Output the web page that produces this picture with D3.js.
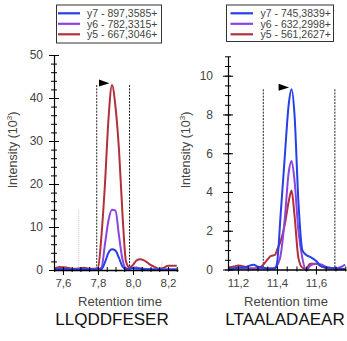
<!DOCTYPE html>
<html><head><meta charset="utf-8">
<script src="https://cdn.jsdelivr.net/npm/d3@7"></script>
<style>
body{margin:0;background:#fff;}
svg{display:block;font-family:"Liberation Sans",Arial,sans-serif;}
</style></head>
<body><svg id="c" width="347" height="341"></svg>
<script>
// ---------- DATA ----------
const seriesNames = ["y7", "y6", "y5"];
const leftLegend = ["y7 - 897,3585+", "y6 - 782,3315+", "y5 - 667,3046+"];
const rightLegend = ["y7 - 745,3839+", "y6 - 632,2998+", "y5 - 561,2627+"];
const peptides = ["LLQDDFESER", "LTAALADAEAR"];

const leftTime = [7.55,7.58,7.62,7.65,7.68,7.72,7.75,7.78,7.80,7.82,7.84,7.86,7.88,7.90,7.92,7.94,7.96,7.98,8.00,8.02,8.04,8.06,8.08,8.10,8.12,8.15,8.18,8.20,8.25];
const leftY5 = [0.3,0.7,0.6,0.3,0.3,0.5,0.3,0.3,0.5,8,20,35,43,38,28,13,2,0.6,1.2,2.2,2.5,2.3,1.8,1.2,0.8,0.3,0.6,1,1];
const leftY6 = [0.3,0.3,0.3,0.2,0.2,0.3,0.2,0.2,0.2,0.5,6,11.5,14,13.8,8,2.5,0.4,0.3,0.5,0.6,0.4,0.3,0.2,0.2,0.2,0.2,0.1,0.1,0.1];
const leftY7 = [0.2,0.2,0.2,0.1,0.1,0.2,0.1,0.1,0.1,0.2,1.8,4,4.8,4.5,2.8,0.8,0.2,0.3,0.4,0.3,0.3,0.2,0.2,0.1,0.1,0.1,0.1,0.1,0.1];

const rightTime = [11.15,11.18,11.20,11.23,11.26,11.28,11.30,11.33,11.35,11.37,11.39,11.40,11.42,11.44,11.46,11.475,11.49,11.51,11.53,11.55,11.57,11.60,11.63,11.66,11.70,11.75];
const rightY7 = [0.05,0.05,0.1,0.1,0.2,0.25,0.15,0.1,0.05,0.05,0.05,0.3,3,5.8,8.5,9.3,8,3.5,1,0.75,0.65,0.45,0.15,0.1,0.05,0.02];
const rightY6 = [0.05,0.05,0.05,0.05,0.05,0.05,0.05,0.05,0.05,0.05,0.1,0.2,0.8,2.6,5.0,5.6,4.6,2.0,0.6,-0.05,0.2,0.3,0.25,0.1,0.05,0.25];
const rightY5 = [0.1,0.15,0.2,0.15,0.05,0.05,0.05,0.25,0.5,0.7,0.75,1.0,1.5,2.3,3.5,4.07,2.8,0.6,0.1,0.05,0.3,0.3,0.15,0.05,0.05,0.02];

const leftBounds = [7.793, 7.98];     // integration boundaries
const rightBounds = [11.33, 11.697];
const leftYTicks = [0,10,20,30,40,50];
const rightYTicks = [0,2,4,6,8,10];
const leftXTicks = [7.6,7.8,8.0,8.2];
const rightXTicks = [11.2,11.4,11.6];
const leftFaint = [7.69, 8.164];

// ---------- STYLE ----------
const colors = {y7:"#2440e6", y6:"#8a45de", y5:"#b0303d"};
const txt = "#444";
const svg = d3.select("#c");
const fmt = d => d3.format(".1f")(d).replace(".", ",");

function panel(cfg){
  const g = svg.append("g");
  const x = d3.scaleLinear().domain(cfg.xdom).range([cfg.x0, cfg.x1]);
  const y = d3.scaleLinear().domain(cfg.ydom).range([cfg.y0, cfg.y1]);

  // faint lines
  (cfg.faint||[]).forEach((f,i)=>{
    g.append("line").attr("x1",x(f)).attr("x2",x(f))
      .attr("y1", y(cfg.faintTop[i])).attr("y2", y(0))
      .attr("stroke","#c8c8c8").attr("stroke-width",1).attr("stroke-dasharray","1,1");
  });

  // boundaries
  const peakIdx = d3.maxIndex(cfg.series[0].v);
  const peakMax = d3.max(cfg.series, s=>d3.max(s.v));
  const peakS = cfg.series.find(s=>d3.max(s.v)===peakMax);
  const pIdx = d3.maxIndex(peakS.v);
  cfg.bounds.forEach(b=>{
    g.append("line").attr("x1",x(b)).attr("x2",x(b))
      .attr("y1", y(peakMax)).attr("y2", y(0))
      .attr("stroke","#222").attr("stroke-width",1).attr("stroke-dasharray","2,1.2");
  });

  // lines
  const line = d3.line().x((d,i)=>x(cfg.t[i])).y(d=>y(d)).curve(d3.curveMonotoneX);
  cfg.series.slice().reverse().forEach(s=>{
    g.append("path").datum(s.v).attr("d",line).attr("fill","none")
      .attr("stroke",colors[s.name]).attr("stroke-width",2).attr("stroke-linejoin","round");
  });

  // arrow marker
  const px = x(cfg.t[pIdx]), py = y(peakMax);
  g.append("path")
    .attr("d", `M${px-13},${py-5.5} L${px-2.5},${py-1.8} L${px-13},${py+1.5} Z`)
    .attr("fill","#000");

  // y axis
  const ya = g.append("g").attr("transform",`translate(${cfg.x0},0)`)
    .call(d3.axisLeft(y).tickValues(cfg.yticks).tickSizeInner(5).tickSizeOuter(0).tickPadding(cfg.ypad).tickFormat(d3.format("d")));
  ya.selectAll(".tick line").attr("x1",5).attr("stroke","#000");
  ya.select(".domain").attr("stroke","#000").attr("stroke-width",1.2);
  ya.selectAll("text").attr("fill",txt).style("font-size","12px");
  const yminor = d3.range(cfg.ydom[0], cfg.ydom[1]+1e-9, cfg.yminor);
  const ym = g.append("g").attr("transform",`translate(${cfg.x0},0)`)
    .call(d3.axisLeft(y).tickValues(yminor).tickSize(3).tickFormat(""));
  ym.select(".domain").remove();
  ym.selectAll(".tick line").attr("x1",3).attr("stroke","#000");

  // x axis
  const xa = g.append("g").attr("transform",`translate(0,${cfg.y0})`)
    .call(d3.axisBottom(x).tickValues(cfg.xticks).tickSizeInner(5).tickSizeOuter(0).tickPadding(4).tickFormat(fmt));
  xa.selectAll(".tick line").attr("y1",-3).attr("stroke","#000");
  xa.select(".domain").attr("stroke","#000").attr("stroke-width",1.6);
  xa.selectAll("text").attr("fill",txt).style("font-size","11.5px");
  const xminor = d3.range(Math.ceil(cfg.xdom[0]*20)/20, cfg.xdom[1], 0.05);
  const xm = g.append("g").attr("transform",`translate(0,${cfg.y0})`)
    .call(d3.axisBottom(x).tickValues(xminor).tickSize(2).tickFormat(""));
  xm.select(".domain").remove();
  xm.selectAll(".tick line").attr("y1",-3).attr("stroke","#000");

  // axis titles
  g.append("text").attr("transform",`translate(${cfg.ylabX},${cfg.ylabY}) rotate(-90)`)
    .attr("text-anchor","middle").attr("fill",txt).style("font-size","12.5px")
    .html('Intensity (10<tspan dy="-5" style="font-size:8px">3</tspan><tspan dy="5">)</tspan>');
  g.append("text").attr("x",cfg.xlabX).attr("y",306).attr("text-anchor","middle")
    .attr("fill",txt).style("font-size","13px").text("Retention time");
  g.append("text").attr("x",cfg.xlabX-(cfg.titleShift||0)).attr("y",325).attr("text-anchor","middle")
    .attr("fill","#111").style("font-size","17px").text(cfg.title);

  // legend
  const L = cfg.legend;
  g.append("rect").attr("x",L.x).attr("y",L.y).attr("width",L.w).attr("height",L.h)
    .attr("fill","#fff").attr("stroke","#333").attr("stroke-width",1);
  cfg.series.forEach((s,i)=>{
    const yy = L.y + 8.3 + i*10.5;
    g.append("line").attr("x1",L.lx0).attr("x2",L.lx1).attr("y1",yy).attr("y2",yy)
      .attr("stroke",colors[s.name]).attr("stroke-width",2.2);
    g.append("text").attr("x",L.tx).attr("y",yy+3.7).attr("fill",txt)
      .style("font-size","10.5px").text(cfg.labels[i]);
  });
}

panel({
  t:leftTime,
  series:[{name:"y7",v:leftY7},{name:"y6",v:leftY6},{name:"y5",v:leftY5}],
  labels:leftLegend, title:peptides[0],
  xdom:[7.549,8.257], x0:54, x1:178,
  ydom:[0,50], y0:270, y1:55, yminor:2, ypad:6,
  yticks:leftYTicks, xticks:leftXTicks, bounds:leftBounds,
  faint:leftFaint, faintTop:[14,1.8],
  ylabX:17, ylabY:150, xlabX:120, titleShift:8,
  legend:{x:56.5,y:5,w:105,h:38,lx0:58,lx1:80,tx:87}
});
panel({
  t:rightTime,
  series:[{name:"y7",v:rightY7},{name:"y6",v:rightY6},{name:"y5",v:rightY5}],
  labels:rightLegend, title:peptides[1],
  xdom:[11.149,11.754], x0:228, x1:346,
  ydom:[0,11], y0:269.5, y1:269.5-11*19.38, yminor:0.5, ypad:10,
  yticks:rightYTicks, xticks:rightXTicks, bounds:rightBounds,
  ylabX:190, ylabY:150, xlabX:286, titleShift:1,
  legend:{x:226.5,y:5,w:107,h:36.5,lx0:230.5,lx1:253,tx:260.5}
});
</script></body></html>
